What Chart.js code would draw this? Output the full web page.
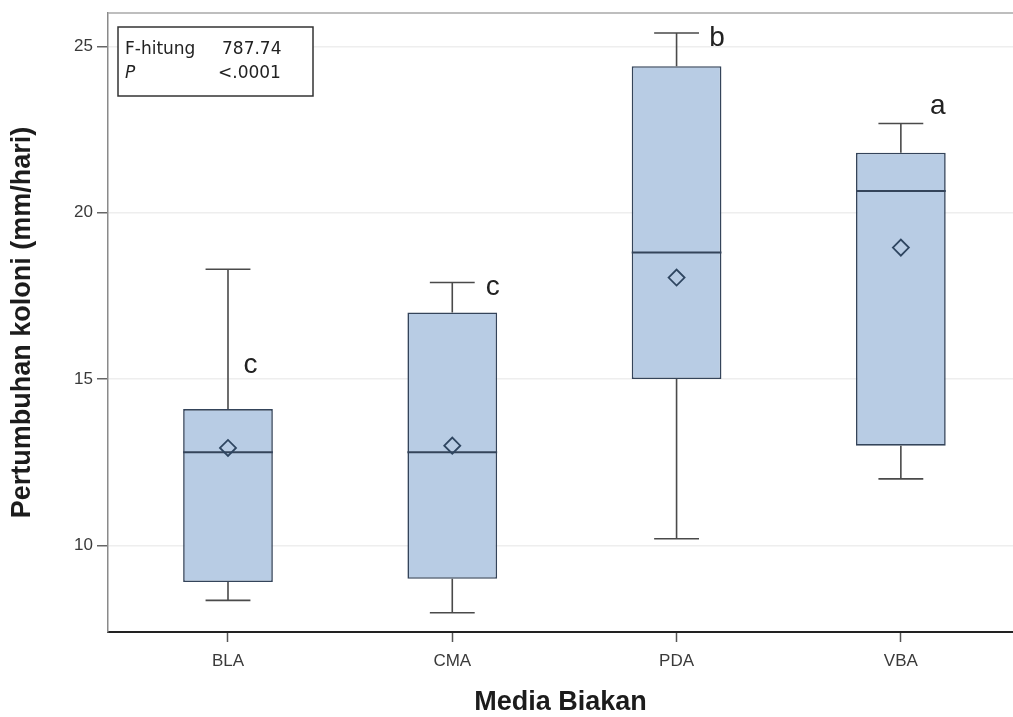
<!DOCTYPE html>
<html>
<head>
<meta charset="utf-8">
<script src="https://cdn.jsdelivr.net/npm/chart.js@4/dist/chart.umd.min.js"></script>
<style>
  html, body { margin: 0; padding: 0; background: #fff; overflow: hidden; }
  #wrap { width: 1013px; height: 717px; }
</style>
</head>
<body>
<div id="wrap"><canvas id="main-chart"></canvas></div>
<script>
// ── Data ─────────────────────────────────────────────────────
const media        = ['BLA', 'CMA', 'PDA', 'VBA'];
const whiskerLow   = [8.35, 7.98, 10.2, 12.0];
const q1           = [8.9, 9.0, 15.0, 13.0];
const median       = [12.8, 12.8, 18.8, 20.65];
const q3           = [14.1, 17.0, 24.4, 21.8];
const whiskerHigh  = [18.3, 17.9, 25.4, 22.68];
const mean         = [12.93, 13.0, 18.05, 18.95];
const groupLetters = ['c', 'c', 'b', 'a'];
const letterLevel  = [15.4, 17.75, 25.25, 23.2];
const yTicks       = [10, 15, 20, 25];
const statNames    = ['F-hitung', 'P'];
const statValues   = ['787.74', '<.0001'];

const SANS = "'Liberation Sans', Arial, sans-serif";
const BOX_FILL = '#b8cce4';
const BOX_LINE = '#34445a';
const WHISKER = '#4a4a4a';

// ── Whiskers, medians, letters, stats inset ──────────────────
const boxExtras = {
  id: 'boxExtras',
  afterDatasetDraw(chart, args, opts) {
    if (args.index !== 0) return;
    const { ctx } = chart;
    const x = chart.scales.x, y = chart.scales.y;
    const unit = x.getPixelForValue(1) - x.getPixelForValue(0);
    ctx.save();
    args.meta.data.forEach((bar, i) => {
      const cx = bar.x;
      const half = bar.width / 2;
      const cap = bar.width * 0.25;
      // whiskers
      ctx.strokeStyle = WHISKER;
      ctx.lineWidth = 1.6;
      ctx.beginPath();
      ctx.moveTo(cx, y.getPixelForValue(q3[i]));
      ctx.lineTo(cx, y.getPixelForValue(whiskerHigh[i]));
      ctx.moveTo(cx - cap, y.getPixelForValue(whiskerHigh[i]));
      ctx.lineTo(cx + cap, y.getPixelForValue(whiskerHigh[i]));
      ctx.moveTo(cx, y.getPixelForValue(q1[i]));
      ctx.lineTo(cx, y.getPixelForValue(whiskerLow[i]));
      ctx.moveTo(cx - cap, y.getPixelForValue(whiskerLow[i]));
      ctx.lineTo(cx + cap, y.getPixelForValue(whiskerLow[i]));
      ctx.stroke();
      // median
      ctx.strokeStyle = BOX_LINE;
      ctx.lineWidth = 2;
      ctx.beginPath();
      ctx.moveTo(cx - half, y.getPixelForValue(median[i]));
      ctx.lineTo(cx + half, y.getPixelForValue(median[i]));
      ctx.stroke();
      // group letter
      ctx.fillStyle = '#222';
      ctx.font = '28px ' + SANS;
      ctx.textAlign = 'center';
      ctx.textBaseline = 'middle';
      ctx.fillText(groupLetters[i], cx + opts.letterShift[i] * unit, y.getPixelForValue(letterLevel[i]));
    });
    ctx.restore();
  },
  afterDraw(chart) {
    const { ctx, chartArea: a } = chart;
    ctx.save();
    // top frame line
    ctx.strokeStyle = '#a8a8a8';
    ctx.lineWidth = 1.5;
    ctx.beginPath();
    ctx.moveTo(a.left, a.top);
    ctx.lineTo(a.right, a.top);
    ctx.stroke();
    // stats inset
    const bx = a.left + 10, by = a.top + 14;
    ctx.fillStyle = '#fff';
    ctx.fillRect(bx, by, 195, 69);
    ctx.strokeStyle = '#333';
    ctx.lineWidth = 1.5;
    ctx.strokeRect(bx, by, 195, 69);
    ctx.fillStyle = '#222';
    ctx.textBaseline = 'alphabetic';
    ctx.textAlign = 'left';
    statNames.forEach((name, i) => {
      const base = by + 27 + i * 24;
      ctx.font = (i === 1 ? 'italic ' : '') + "17px 'DejaVu Sans', sans-serif";
      ctx.fillText(name, bx + 7, base);
      ctx.font = "17px 'DejaVu Sans', sans-serif";
      ctx.fillText(statValues[i], bx + (i === 0 ? 104 : 100), base);
    });
    ctx.restore();
  }
};

new Chart(document.getElementById('main-chart').getContext('2d'), {
  data: {
    datasets: [
      {
        type: 'bar',
        label: 'IQR',
        data: media.map((m, i) => ({ x: i, y: [q1[i], q3[i]] })),
        backgroundColor: BOX_FILL,
        borderColor: BOX_LINE,
        borderWidth: 1.6,
        borderSkipped: false,
        barPercentage: 0.4,
        categoryPercentage: 1,
        order: 2,
      },
      {
        type: 'line',
        label: 'Mean',
        data: mean.map((v, i) => ({ x: i, y: v })),
        showLine: false,
        pointStyle: 'rectRot',
        pointRadius: 8,
        pointBorderWidth: 1.8,
        pointBackgroundColor: 'rgba(0,0,0,0)',
        pointBorderColor: '#2e4560',
        order: 1,
      }
    ]
  },
  options: {
    responsive: true,
    maintainAspectRatio: false,
    animation: false,
    layout: { autoPadding: false, padding: { top: 13, right: 0, left: 0, bottom: 0 } },
    plugins: {
      legend: { display: false },
      tooltip: { enabled: false },
      boxExtras: { letterShift: [0.1, 0.18, 0.18, 0.165] },
    },
    scales: {
      x: {
        type: 'linear',
        offset: false,
        min: -0.535,
        max: 3.5,
        afterBuildTicks: s => { s.ticks = media.map((m, i) => ({ value: i })); },
        grid: { display: true, offset: false, drawOnChartArea: false, tickLength: 10, tickColor: '#555', tickWidth: 1.5 },
        border: { color: '#222', width: 2 },
        ticks: { color: '#3a3a3a', font: { size: 17, family: SANS }, padding: 9,
          callback: v => media[v] },
        title: { display: true, text: 'Media Biakan', color: '#1c1c1c',
          font: { size: 27, weight: 'bold', family: SANS, lineHeight: 1 }, padding: { top: 0, bottom: 1 } },
        afterFit: s => { s.height = 85; s.paddingLeft = 0; s.paddingRight = 0; },
      },
      y: {
        min: 7.4,
        max: 26.0,
        afterBuildTicks: s => { s.ticks = yTicks.map(v => ({ value: v })); },
        grid: { color: '#eeeeee', lineWidth: 1.5, tickLength: 11, tickColor: '#666', tickWidth: 1.5 },
        border: { color: '#8a8a8a', width: 1.5 },
        ticks: { color: '#3a3a3a', font: { size: 17, family: SANS }, padding: 4 },
        title: { display: true, text: 'Pertumbuhan koloni (mm/hari)', color: '#1c1c1c',
          font: { size: 27, weight: 'bold', family: SANS, lineHeight: 1 }, padding: { top: 9, bottom: 0 } },
        afterFit: s => { s.width = 108; s.paddingTop = 0; s.paddingBottom = 0; },
      }
    }
  },
  plugins: [boxExtras]
});
</script>
</body>
</html>
